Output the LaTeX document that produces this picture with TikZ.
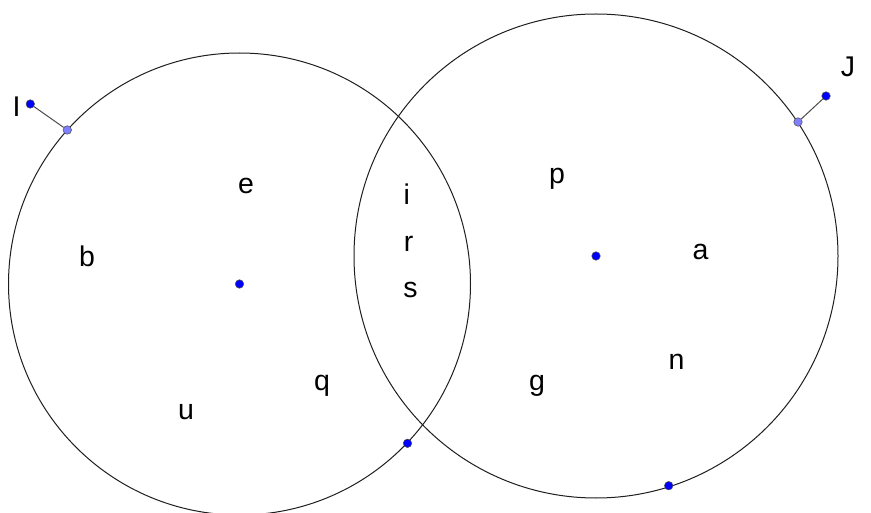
\documentclass[tikz,border=0pt]{standalone}
\usepackage{fontspec}
\setmainfont{Liberation Sans}
\definecolor{ptblue}{RGB}{0,0,255}
\definecolor{ptlight}{RGB}{128,128,255}
\definecolor{linegray}{RGB}{30,30,30}
\begin{document}
\begin{tikzpicture}[x=1pt,y=-1pt,
  circ/.style={draw=linegray,line width=1pt},
  seg/.style={draw=linegray!80,line width=1pt},
  pt/.style={circle,fill=ptblue,draw=black!70,line width=0.5pt,inner sep=0pt,minimum size=8.5pt},
  ptl/.style={circle,fill=ptlight,draw=black!70,line width=0.5pt,inner sep=0pt,minimum size=8.5pt},
  lab/.style={anchor=base,inner sep=0pt,font=\fontsize{28.5}{32}\selectfont}]
\useasboundingbox (0,0) rectangle (871,513);
\coordinate (c1) at (239.5,284);
\coordinate (c2) at (596,256);
\draw[circ] (c1) circle[radius=231];
\draw[circ] (c2) circle[radius=242];
\node[pt] (I) at (30.3,104) {};
\node[pt] (J) at (826,96) {};
\node[ptl] (Ip) at (67.3,130) {};
\node[ptl] (Jp) at (798,122) {};
\draw[seg] (I) -- (Ip);
\draw[seg] (J) -- (Jp);
\node[pt] (C1) at (c1) {};
\node[pt] (C2) at (c2) {};
\node[pt] (K) at (407.5,443.3) {};
\node[pt] (L) at (668.7,485.7) {};
\node[lab] (lI) at (16.5,117) {I};
\node[lab] (lJ) at (848,77) {J};
\node[lab] (le) at (246,194) {e};
\node[lab] (lb) at (87,267) {b};
\node[lab] (li) at (406.7,205) {i};
\node[lab] (lr) at (408.5,251.5) {r};
\node[lab] (ls) at (410.5,298) {s};
\node[lab] (lp) at (557,184) {p};
\node[lab] (la) at (700.5,260) {a};
\node[lab] (ln) at (676.5,370) {n};
\node[lab] (lg) at (537,391) {g};
\node[lab] (lq) at (322,391) {q};
\node[lab] (lu) at (186,419) {u};
\end{tikzpicture}
\end{document}
